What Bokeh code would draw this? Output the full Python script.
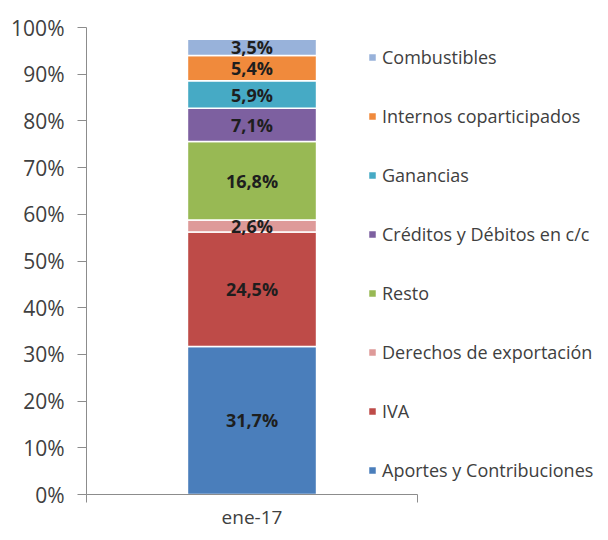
from bokeh.plotting import figure
from bokeh.models import ColumnDataSource, Legend, LegendItem, FixedTicker, NumeralTickFormatter, Range1d
from bokeh.core.properties import value
from bokeh.embed import file_html
from bokeh.resources import INLINE

categories = ["ene-17"]
series = ["Aportes y Contribuciones", "IVA", "Derechos de exportación", "Resto",
          "Créditos y Débitos en c/c", "Ganancias", "Internos coparticipados", "Combustibles"]
shares = [31.7, 24.5, 2.6, 16.8, 7.1, 5.9, 5.4, 3.5]
colors = ["#4A7EBB", "#BE4B48", "#DE9A99", "#98B954", "#7D60A0", "#46AAC5", "#F08A3C", "#98B2DA"]
y_ticks = [0, 0.1, 0.2, 0.3, 0.4, 0.5, 0.6, 0.7, 0.8, 0.9, 1.0]

FONT = "Open Sans"
x_pos = [i + 0.5 for i in range(len(categories))]

data = {"x": x_pos}
keys = []
for i, (name, v) in enumerate(zip(series, shares)):
    k = f"s{i}"
    keys.append(k)
    data[k] = [v / 100.0]
source = ColumnDataSource(data)

# frame spans 86..598 px; category area (axis) covers 331 px of it
x_end = len(categories) * 512.0 / 331.0
p = figure(width=600, height=532, output_backend="svg", toolbar_location=None,
           x_range=Range1d(0, x_end), y_range=Range1d(0, 1.0),
           min_border_left=86, min_border_right=2, min_border_top=27, min_border_bottom=35)
p.outline_line_color = None
p.xgrid.grid_line_color = None
p.ygrid.grid_line_color = None
p.background_fill_color = "white"
p.border_fill_color = "white"

renderers = p.vbar_stack(keys, x="x", width=0.39, source=source, color=colors,
                         line_color="white", line_width=1.5)

# segment labels
bottoms = []
acc = 0.0
for v in shares:
    bottoms.append(acc)
    acc += v
lab_src = ColumnDataSource(dict(
    x=[x_pos[0]] * len(shares),
    y=[(b + v / 2.0) / 100.0 for b, v in zip(bottoms, shares)],
    t=[f"{v:.1f}%".replace(".", ",") for v in shares],
))
p.text(x="x", y="y", text="t", source=lab_src, text_align="center", text_baseline="middle",
       text_font=value(FONT), text_font_style="bold", text_font_size="18px", text_color="#1E1E1E")

# axes
p.yaxis.ticker = FixedTicker(ticks=y_ticks)
p.yaxis.formatter = NumeralTickFormatter(format="0%")
p.yaxis.minor_tick_line_color = None
p.yaxis.major_tick_in = 0
p.yaxis.major_tick_out = 9
p.yaxis.axis_line_color = "#8C8C8C"
p.yaxis.major_tick_line_color = "#8C8C8C"
p.yaxis.major_label_text_font = FONT
p.yaxis.major_label_text_font_size = "21px"
p.yaxis.major_label_text_color = "#404040"
p.yaxis.major_label_standoff = 13

p.xaxis.bounds = (0, len(categories))
p.xaxis.ticker = FixedTicker(ticks=x_pos, minor_ticks=[0, len(categories)])
p.xaxis.major_label_overrides = {x: c for x, c in zip(x_pos, categories)}
p.xaxis.major_tick_line_color = None
p.xaxis.major_tick_out = 0
p.xaxis.major_tick_in = 0
p.xaxis.minor_tick_in = 0
p.xaxis.minor_tick_out = 8
p.xaxis.minor_tick_line_color = "#8C8C8C"
p.xaxis.axis_line_color = "#8C8C8C"
p.xaxis.major_label_text_font = FONT
p.xaxis.major_label_text_font_size = "19px"
p.xaxis.major_label_text_color = "#404040"
p.xaxis.major_label_standoff = 1

items = [LegendItem(label=name, renderers=[r]) for name, r in zip(series, renderers)]
items = items[::-1]
legend = Legend(items=items, location=(281, 11), padding=0, margin=0,
                border_line_color=None, background_fill_alpha=0,
                glyph_width=10, glyph_height=10, label_height=26, spacing=33,
                label_standoff=5, label_text_font=FONT, label_text_font_size="18px",
                label_text_color="#404040")
p.add_layout(legend, "center")

open("out.html", "w").write(file_html(p, INLINE))
